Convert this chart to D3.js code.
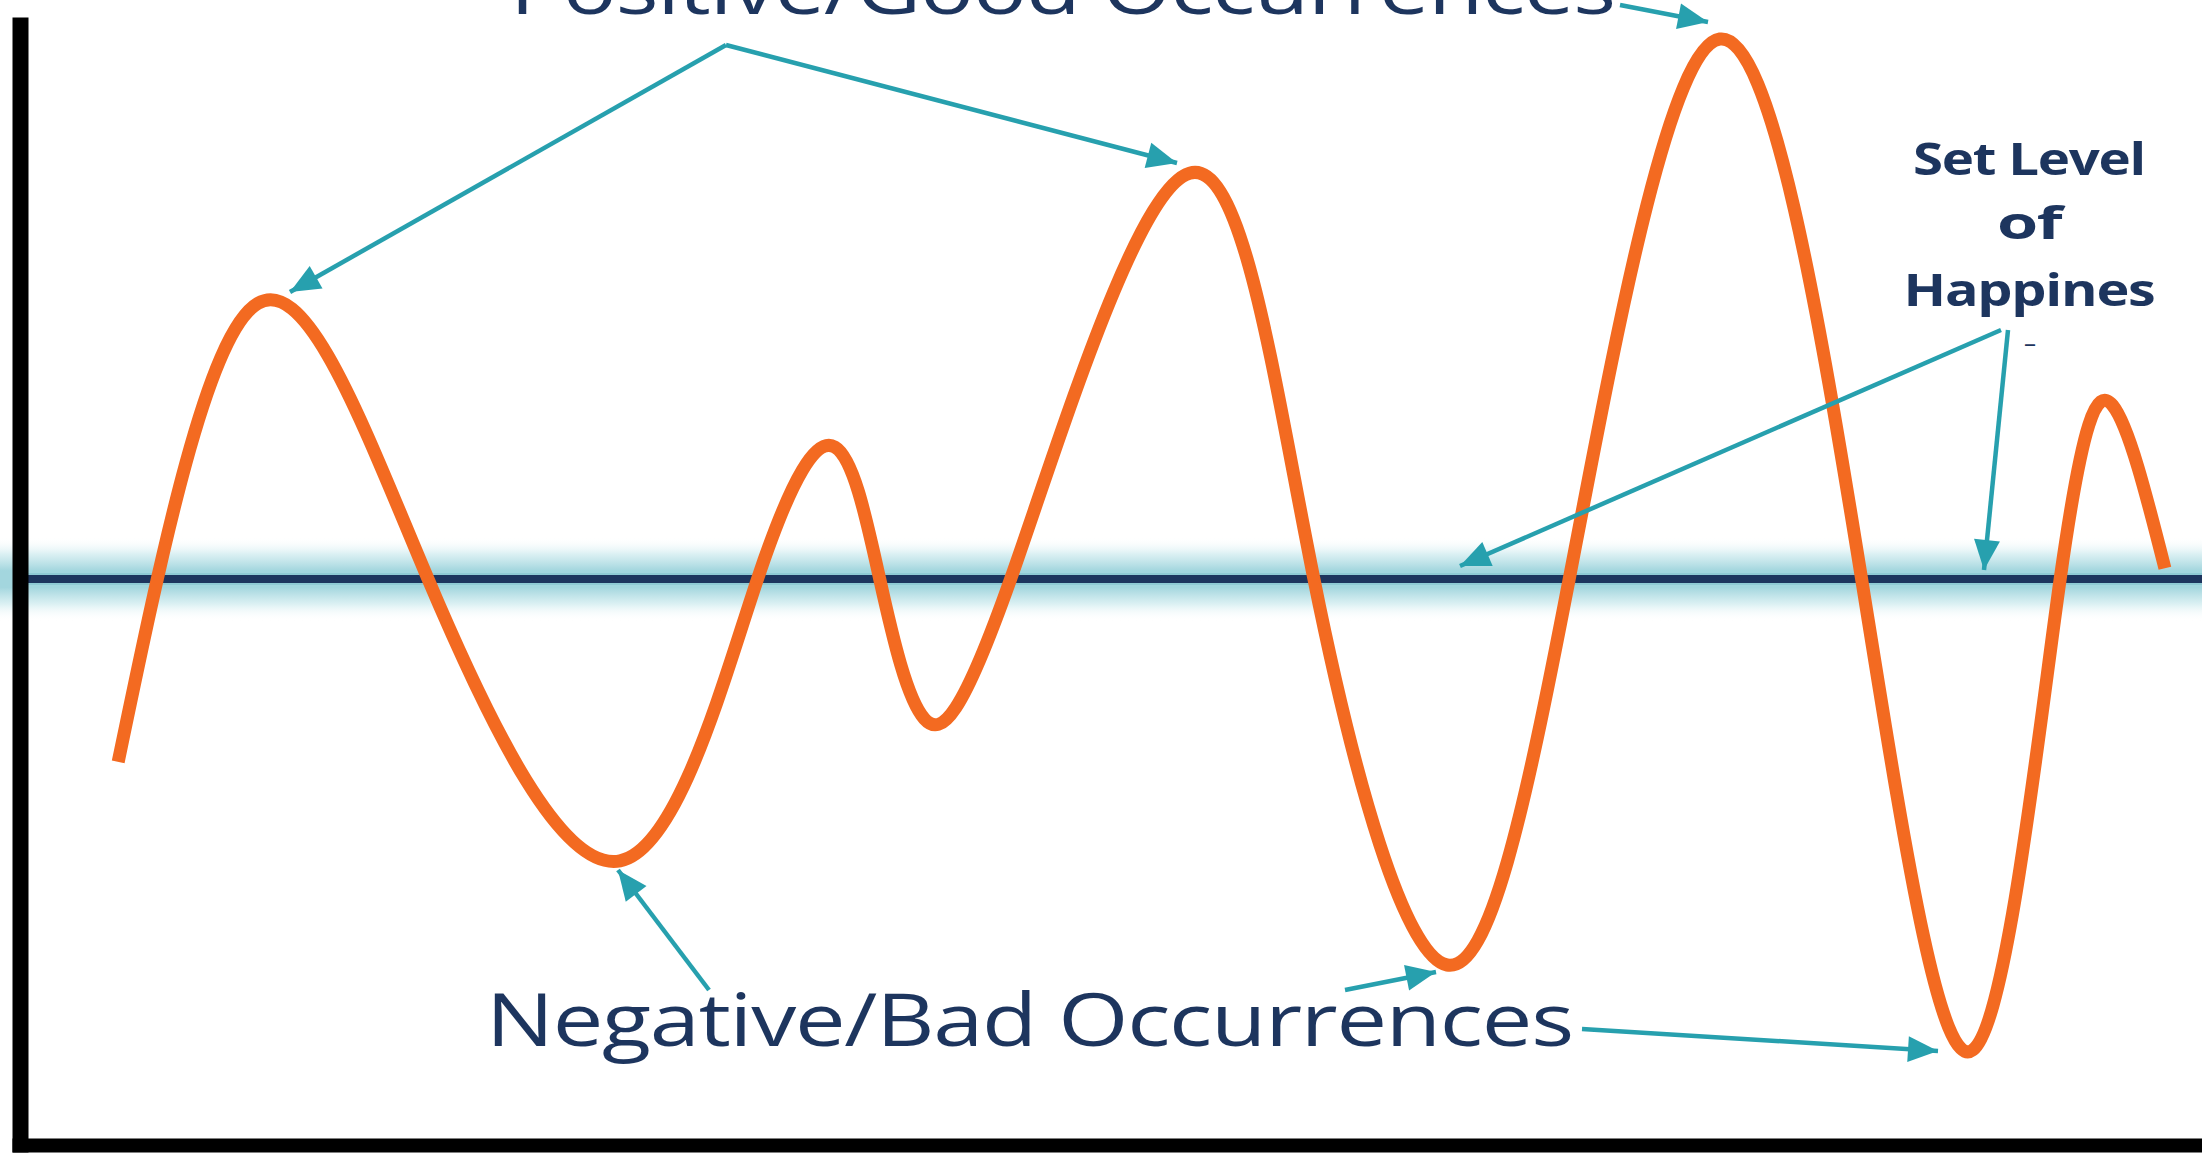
<!DOCTYPE html>
<html>
<head>
<meta charset="utf-8">
<script src="https://cdn.jsdelivr.net/npm/d3@7/dist/d3.min.js"></script>
<style>
  html, body { margin: 0; padding: 0; background: #ffffff; overflow: hidden; }
  svg { display: block; }
</style>
</head>
<body>
<svg id="chart" width="2202" height="1153"></svg>
<script>
// ---- Data (time on x, happiness relative to the set level on y) ----
const times     = [4.5, 10.9, 18.7, 27.5, 33.8, 37.35, 39.4, 41.45, 45.4, 53.6, 59.3, 65.4, 71.0, 77.9, 84.4, 89.5, 93.5, 95.9, 98.3];
const happiness = [-3.23, 4.87, 0, -4.98, 0, 2.33, 0, -2.47, 0, 7.17, 0, -6.82, 0, 9.54, 0, -8.32, 0, 3.07, 0.19];
const setLevel  = 0;
const labelTop    = "Positive/Good Occurrences";
const labelBottom = "Negative/Bad Occurrences";
const labelSet    = ["Set Level", "of", "Happines"];

// ---- Layout ----
const W = 2202, H = 1153;
const svg = d3.select("#chart");
const x = d3.scaleLinear().domain([0, 100]).range([20, W]);
const y = d3.scaleLinear().domain([-10, 10]).range([1145, 13]);

const teal = "#27a0ae", navy = "#1d355e", orange = "#f36a21";

const defs = svg.append("defs");
const grad = defs.append("linearGradient").attr("id", "glow").attr("x1", 0).attr("x2", 0).attr("y1", 0).attr("y2", 1);
[[0, "#ffffff", 0], [0.2, "#d8eff2", 0.9], [0.4, "#a3d6de", 1], [0.6, "#a3d6de", 1], [0.8, "#d8eff2", 0.9], [1, "#ffffff", 0]]
  .forEach(([o, c, a]) => grad.append("stop").attr("offset", o).attr("stop-color", c).attr("stop-opacity", a));

defs.append("marker").attr("id", "ah")
  .attr("viewBox", "-2 -16 36 32").attr("refX", 30).attr("refY", 0)
  .attr("markerWidth", 36).attr("markerHeight", 32)
  .attr("markerUnits", "userSpaceOnUse").attr("orient", "auto")
  .append("path").attr("d", "M0,-13 L30,0 L0,13 Z").attr("fill", teal);

// Set-level glow band + line
const y0 = y(setLevel);
svg.append("rect").attr("x", 0).attr("width", W).attr("y", y0 - 42).attr("height", 84).attr("fill", "url(#glow)");
svg.append("line").attr("x1", x(0)).attr("x2", W).attr("y1", y0).attr("y2", y0)
  .attr("stroke", "#8fcad4").attr("stroke-width", 12);
svg.append("line").attr("x1", x(0)).attr("x2", W).attr("y1", y0).attr("y2", y0)
  .attr("stroke", navy).attr("stroke-width", 8);

// Axes (library axes, no ticks)
const yAxis = svg.append("g").attr("transform", `translate(${x(0)},0)`)
  .call(d3.axisLeft(y.copy().range([1152, 17])).tickValues([]).tickSizeOuter(0));
yAxis.select(".domain").attr("stroke", "#000").attr("stroke-width", 16);
const xAxis = svg.append("g").attr("transform", `translate(0,${1145})`)
  .call(d3.axisBottom(x.copy().range([12, W])).tickValues([]).tickSizeOuter(0));
xAxis.select(".domain").attr("stroke", "#000").attr("stroke-width", 14);

// Happiness curve
const pts = times.map((t, i) => [t, happiness[i]]);
svg.append("path").datum(pts)
  .attr("d", d3.line().x(d => x(d[0])).y(d => y(d[1])).curve(d3.curveNatural))
  .attr("fill", "none").attr("stroke", orange).attr("stroke-width", 13)
  .attr("stroke-linecap", "butt").attr("stroke-linejoin", "round");

// Annotation arrows
const arrows = [
  [726, 45, 290, 292], [726, 45, 1177, 163], [1620, 5, 1708, 22],
  [709, 990, 618, 870], [1345, 990, 1436, 972], [1582, 1029, 1938, 1051],
  [2001, 330, 1460, 566], [2008, 330, 1984, 570]
];
svg.append("g").selectAll("line").data(arrows).join("line")
  .attr("x1", d => d[0]).attr("y1", d => d[1]).attr("x2", d => d[2]).attr("y2", d => d[3])
  .attr("stroke", teal).attr("stroke-width", 4.5).attr("marker-end", "url(#ah)");

// Texts
const font = "'Open Sans', Lato, sans-serif";
svg.append("text").attr("x", 510).attr("y", 14).text(labelTop)
  .attr("font-family", font).attr("font-weight", 500).attr("font-size", 74).attr("fill", navy)
  .attr("letter-spacing", -1)
  .attr("textLength", 1105).attr("lengthAdjust", "spacingAndGlyphs");
svg.append("text").attr("x", 486).attr("y", 1046).text(labelBottom)
  .attr("font-family", font).attr("font-weight", 500).attr("font-size", 74).attr("fill", navy)
  .attr("letter-spacing", -1)
  .attr("textLength", 1087).attr("lengthAdjust", "spacingAndGlyphs");

const setWidths = [232, 64, 251];
const setBase = [175, 239, 306];
labelSet.forEach((s, i) => {
  svg.append("text").attr("x", 2029).attr("y", setBase[i]).attr("text-anchor", "middle").text(s)
    .attr("font-family", font).attr("font-weight", 700).attr("font-size", 44).attr("fill", navy)
    .attr("letter-spacing", -1)
    .attr("textLength", setWidths[i]).attr("lengthAdjust", "spacingAndGlyphs");
});
svg.append("text").attr("x", 2030).attr("y", 352).attr("text-anchor", "middle").text("–")
  .attr("font-family", font).attr("font-size", 24).attr("fill", navy);
</script>
</body>
</html>
